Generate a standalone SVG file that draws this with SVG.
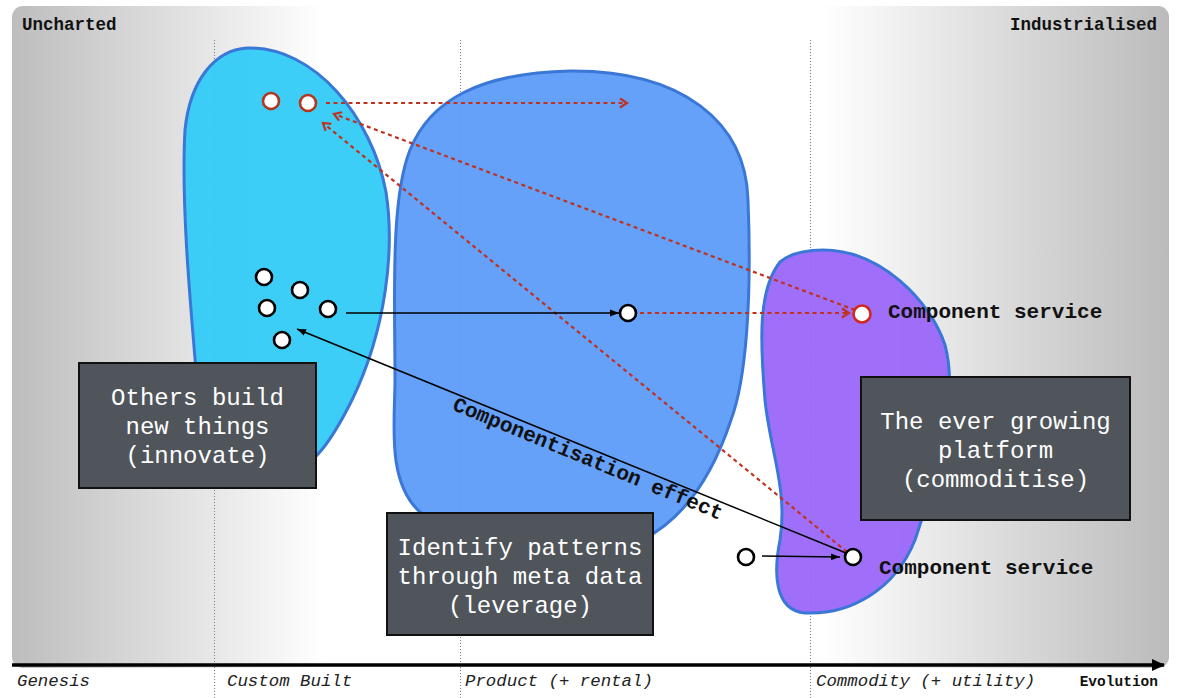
<svg xmlns="http://www.w3.org/2000/svg" width="1200" height="698" viewBox="0 0 1200 698">
<defs>
<linearGradient id="bg" x1="12" y1="0" x2="1169" y2="0" gradientUnits="userSpaceOnUse">
<stop offset="0" stop-color="#bdbdbd"/>
<stop offset="0.27" stop-color="#ffffff"/>
<stop offset="0.7" stop-color="#ffffff"/>
<stop offset="1" stop-color="#bbbbbb"/>
</linearGradient>
<marker id="ab" markerWidth="10" markerHeight="8" refX="9" refY="4" orient="auto" markerUnits="userSpaceOnUse">
<path d="M0,0.5 L9,4 L0,7.5 z" fill="#000"/>
</marker>
<marker id="ar" markerWidth="12" markerHeight="12" refX="9" refY="6" orient="auto" markerUnits="userSpaceOnUse">
<path d="M2,1.5 L9,6 L2,10.5" fill="none" stroke="#c0321f" stroke-width="2.2"/>
</marker>
<marker id="ax" markerWidth="14" markerHeight="14" refX="12" refY="7" orient="auto" markerUnits="userSpaceOnUse">
<path d="M0,1 L13,7 L0,13 z" fill="#000"/>
</marker>
</defs>
<style>
.blob{stroke:#3a77d6;stroke-width:3;fill-opacity:0.94}
.vl{stroke:#7a7a7a;stroke-width:1;stroke-dasharray:1 2}
.box rect{fill:#50555b;stroke:#111;stroke-width:2}
.box text{fill:#fff;font-family:"Liberation Mono","Courier New",monospace;font-size:24px;text-anchor:middle}
.dot{fill:#fff;stroke:#000;stroke-width:2.6}
.rdot{fill:#fff;stroke:#b3361e;stroke-width:2.6}
.ln{stroke:#000;stroke-width:1.5;fill:none}
.rd{stroke:#c0321f;stroke-width:2.2;stroke-dasharray:4 3.5;fill:none}
.hd{font-family:"Liberation Mono","Courier New",monospace;font-weight:bold;font-size:17.5px;fill:#111}
.ax{font-family:"Liberation Mono","Courier New",monospace;font-style:italic;font-size:17.4px;fill:#222}
.lbl{font-family:"Liberation Mono","Courier New",monospace;font-weight:bold;font-size:21px;fill:#111}
</style>
<g id="background">
<rect x="12" y="6" width="1157" height="662" rx="11" fill="url(#bg)"/>
<line class="vl" x1="214.5" y1="40" x2="214.5" y2="698"/>
<line class="vl" x1="460.5" y1="40" x2="460.5" y2="698"/>
<line class="vl" x1="810.5" y1="40" x2="810.5" y2="698"/>
<text class="hd" x="22" y="30">Uncharted</text>
<text class="hd" x="1157" y="30" text-anchor="end">Industrialised</text>
</g>
<g id="blob-custom">
<path class="blob" fill="#30cbf6" d="M247,48 C315,46 372,118 386,192 C395,250 386,330 352,400 C332,440 312,470 287,472 C232,480 202,420 196,370 C190,300 181,200 185,130 C190,80 215,50 247,48 Z"/>
</g>
<g id="blob-product">
<path class="blob" fill="#5b9af9" d="M570,71 C682,70 746,122 748,200 C752,300 746,380 731,420 C711,480 682,520 642,540 C560,572 462,542 420,512 C386,482 395,420 395,380 C395,300 390,200 410,150 C430,100 480,73 570,71 Z"/>
</g>
<g id="blob-commodity">
<path class="blob" fill="#9966f9" d="M823,250 C880,250 930,300 945,345 C960,400 935,480 915,540 C895,590 850,615 805,613 C773,610 774,570 780,540 C788,490 770,450 765,400 C760,340 758,290 780,262 C792,252 808,250 823,250 Z"/>
</g>
<g id="axis">
<line x1="12" y1="665" x2="1164" y2="665" stroke="#000" stroke-width="3.5" marker-end="url(#ax)"/>
<text class="ax" x="17" y="686">Genesis</text>
<text class="ax" x="227" y="686">Custom Built</text>
<text class="ax" x="465" y="686">Product (+ rental)</text>
<text class="ax" x="816" y="686">Commodity (+ utility)</text>
<text x="1158" y="686" text-anchor="end" font-family="Liberation Mono, Courier New, monospace" font-weight="bold" font-size="14.5px" fill="#111">Evolution</text>
</g>
<g id="connectors">
<line class="rd" x1="326" y1="103" x2="627" y2="103" marker-end="url(#ar)"/>
<line class="rd" x1="855" y1="310" x2="334" y2="114" marker-end="url(#ar)"/>
<line class="rd" x1="847" y1="552" x2="323" y2="123" marker-end="url(#ar)"/>
<line class="rd" x1="640" y1="313" x2="849" y2="313" marker-end="url(#ar)"/>
<line class="ln" x1="346" y1="313" x2="619" y2="313" marker-end="url(#ab)"/>
<line class="ln" x1="846" y1="553" x2="297" y2="329" marker-end="url(#ab)"/>
<line class="ln" x1="762" y1="556" x2="840" y2="557" marker-end="url(#ab)"/>
<g transform="translate(592,449) rotate(22.4)">
<text class="lbl" x="0" y="17" text-anchor="middle" font-size="21.5px">Componentisation effect</text>
</g>
</g>
<g id="nodes-innovate">
<circle class="rdot" cx="271" cy="101" r="8"/>
<circle class="rdot" cx="308" cy="103" r="8"/>
<circle class="dot" cx="264" cy="277" r="8"/>
<circle class="dot" cx="300" cy="290" r="8"/>
<circle class="dot" cx="267" cy="308" r="8"/>
<circle class="dot" cx="328" cy="309" r="8"/>
<circle class="dot" cx="282" cy="340" r="8"/>
</g>
<g id="node-product">
<circle class="dot" cx="628" cy="313" r="8"/>
</g>
<g id="node-component-top">
<circle cx="862" cy="314" r="8.5" fill="#fff" stroke="#d0281e" stroke-width="2.6"/>
<text class="lbl" x="888" y="318">Component service</text>
</g>
<g id="node-component-bottom">
<circle class="dot" cx="746" cy="557" r="8"/>
<circle class="dot" cx="853" cy="557" r="8"/>
<text class="lbl" x="879" y="574">Component service</text>
</g>
<g id="box-innovate" class="box">
<rect x="79" y="363" width="237" height="125"/>
<text x="197.5" y="405">Others build</text>
<text x="197.5" y="434">new things</text>
<text x="197.5" y="463">(innovate)</text>
</g>
<g id="box-leverage" class="box">
<rect x="387" y="513" width="266" height="122"/>
<text x="520" y="555">Identify patterns</text>
<text x="520" y="584">through meta data</text>
<text x="520" y="613">(leverage)</text>
</g>
<g id="box-commoditise" class="box">
<rect x="861" y="377" width="269" height="143"/>
<text x="995.5" y="429">The ever growing</text>
<text x="995.5" y="458">platform</text>
<text x="995.5" y="487">(commoditise)</text>
</g>
</svg>
